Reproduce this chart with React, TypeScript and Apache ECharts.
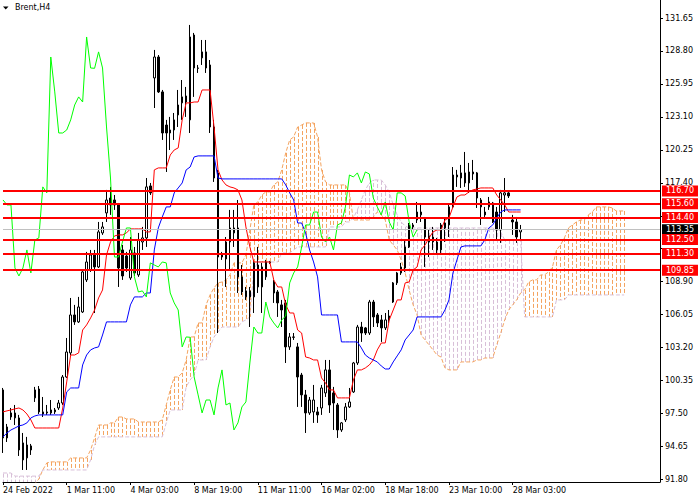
import React, { useEffect, useRef } from "react";
import * as echarts from "echarts";

const xLabels = ["24 Feb 2022", "1 Mar 11:00", "4 Mar 03:00", "8 Mar 19:00", "11 Mar 11:00", "16 Mar 02:00", "18 Mar 18:00", "23 Mar 10:00", "28 Mar 03:00"];
const yTicks = [91.8, 94.65, 97.5, 100.35, 103.2, 106.05, 108.9, 111.75, 114.55, 117.4, 120.25, 123.1, 125.95, 128.8, 131.65];
const yLabels = [91.8, 94.65, 97.5, 100.35, 103.2, 106.05, 108.9, 117.4, 120.25, 123.1, 125.95, 128.8, 131.65];
const levels = [116.7, 115.6, 114.4, 112.5, 111.3, 109.85];
const bid = 113.35;

// [open, close, low, high] per H4 bar
const ohlc = [
  [99.50, 95.35, 94.05, 99.67], [96.30, 95.35, 95.00, 96.56], [97.16, 97.51, 96.91, 97.94], [97.08, 97.51, 96.47, 98.20],
  [97.08, 94.31, 93.79, 97.34], [94.92, 93.45, 92.58, 95.78], [93.62, 94.74, 92.58, 95.44], [94.66, 94.31, 93.88, 94.83],
  [98.81, 99.50, 98.46, 99.76], [99.58, 97.60, 97.42, 99.84], [97.60, 97.42, 97.16, 98.89], [97.51, 97.60, 97.34, 98.20],
  [97.51, 97.77, 97.34, 98.63], [97.60, 97.77, 97.42, 97.94], [97.94, 98.37, 97.77, 98.63], [98.37, 100.62, 98.20, 100.79],
  [100.62, 102.78, 100.54, 103.99], [102.70, 105.98, 102.52, 107.45], [105.98, 105.38, 105.12, 106.85], [105.38, 106.67, 105.29, 107.54],
  [106.24, 109.70, 106.15, 109.87], [109.01, 110.56, 108.83, 111.43], [109.87, 111.17, 109.70, 111.60], [111.17, 110.13, 106.15, 111.60],
  [110.13, 113.16, 110.04, 114.02], [113.07, 113.59, 112.90, 114.02], [114.80, 115.92, 114.02, 116.79], [116.09, 115.49, 114.63, 117.05],
  [115.92, 115.49, 115.06, 116.35], [115.49, 110.04, 108.40, 115.66], [111.60, 109.35, 109.01, 112.03], [111.08, 110.04, 109.70, 111.43],
  [109.18, 111.60, 109.01, 112.72], [111.34, 109.61, 109.35, 111.86], [109.44, 112.46, 109.27, 113.07], [112.29, 112.64, 111.60, 113.59],
  [112.64, 117.05, 111.86, 117.82], [117.13, 116.53, 116.35, 117.39], [126.47, 128.28, 123.87, 128.89], [128.28, 125.26, 125.17, 128.45],
  [125.26, 121.71, 121.11, 125.43], [122.40, 121.71, 118.34, 122.84], [121.71, 121.97, 120.24, 123.10], [121.97, 122.84, 121.11, 123.44],
  [123.27, 124.13, 122.23, 125.43], [124.31, 124.83, 122.84, 126.29], [124.91, 124.39, 123.10, 125.69], [122.84, 130.01, 121.71, 131.05],
  [130.18, 127.33, 124.83, 130.36], [127.33, 127.30, 126.90, 127.59], [128.20, 128.72, 127.59, 129.75], [128.72, 127.33, 126.90, 129.75],
  [127.59, 122.23, 121.71, 128.02], [122.23, 117.82, 117.48, 122.84], [118.26, 110.99, 104.42, 118.52], [111.17, 110.99, 110.74, 111.43],
  [110.82, 112.29, 108.40, 112.72], [112.29, 113.50, 109.87, 115.06], [113.07, 113.50, 111.86, 115.06], [113.50, 109.27, 107.88, 115.92],
  [109.27, 107.97, 107.71, 110.30], [107.54, 108.06, 107.28, 108.40], [108.06, 107.54, 104.94, 108.40], [107.54, 110.48, 106.15, 110.74],
  [108.40, 110.30, 107.88, 111.86], [108.40, 110.13, 106.15, 110.48], [109.27, 110.56, 109.01, 110.74], [110.56, 110.48, 110.39, 110.65],
  [108.83, 107.88, 107.02, 109.01], [107.97, 107.02, 105.81, 108.14], [106.85, 106.41, 104.94, 107.28], [107.02, 103.22, 101.83, 107.28],
  [103.22, 104.08, 102.96, 104.42], [104.08, 104.05, 103.82, 104.42], [103.22, 100.62, 98.03, 103.56], [100.79, 99.07, 98.03, 100.97],
  [99.07, 97.51, 95.78, 99.50], [97.51, 98.63, 97.34, 98.89], [97.60, 98.63, 96.65, 99.93], [97.60, 97.34, 96.65, 98.03],
  [97.94, 99.67, 97.34, 99.93], [99.24, 101.23, 98.89, 102.09], [101.23, 98.20, 97.51, 102.09], [99.24, 98.37, 96.04, 99.76],
  [98.20, 96.04, 95.35, 98.37], [96.04, 96.65, 95.87, 96.73], [96.91, 98.03, 96.73, 98.37], [98.03, 98.46, 97.94, 99.67],
  [99.33, 101.83, 99.24, 101.92], [101.83, 104.94, 101.66, 105.12], [104.94, 104.42, 103.65, 105.38], [104.86, 104.42, 104.25, 104.94],
  [104.42, 107.10, 104.25, 107.28], [107.10, 105.81, 104.94, 107.28], [105.98, 105.29, 104.94, 106.15], [105.55, 104.86, 103.65, 105.98],
  [104.86, 105.55, 104.68, 106.15], [105.55, 105.89, 105.29, 106.41], [107.10, 108.75, 107.02, 108.83], [108.75, 109.61, 108.57, 109.70],
  [109.61, 110.13, 109.44, 110.48], [110.04, 111.86, 109.70, 112.46], [111.86, 113.76, 111.77, 113.93], [113.59, 113.76, 113.33, 113.93],
  [114.19, 114.88, 113.93, 115.75], [114.63, 114.88, 114.02, 115.66], [114.37, 112.72, 110.13, 114.45], [112.81, 112.29, 110.99, 113.33],
  [112.29, 112.72, 111.60, 113.59], [112.29, 111.60, 111.17, 112.64], [111.60, 113.76, 111.34, 113.93], [113.50, 113.93, 112.29, 114.37],
  [113.76, 115.32, 112.72, 115.49], [115.32, 118.08, 115.23, 118.77], [118.08, 117.91, 117.05, 118.52], [117.82, 118.26, 116.96, 118.95],
  [118.26, 117.39, 117.05, 120.07], [117.39, 118.34, 116.53, 119.12], [118.34, 118.17, 117.65, 119.38], [118.26, 116.09, 115.23, 118.34],
  [115.92, 115.32, 113.76, 116.09], [114.88, 114.63, 114.45, 115.32], [115.32, 115.75, 115.06, 116.18], [115.66, 114.02, 113.93, 115.75],
  [114.88, 113.33, 112.46, 115.32], [113.33, 116.53, 112.21, 116.79], [116.35, 116.53, 114.88, 117.82], [116.53, 116.27, 116.09, 116.61],
  [114.19, 114.02, 112.90, 114.63], [114.02, 112.72, 112.21, 114.45], [113.16, 113.35, 112.46, 113.76],
];

const tenkan = [
  97.60, 97.69, 97.77, 97.86, 97.94, 97.77, 97.42, 96.91, 96.21, 96.21,
  96.21, 96.21, 96.21, 96.21, 96.21, 97.94, 100.19, 102.52, 102.52, 102.70,
  104.68, 105.12, 105.72, 106.41, 107.45, 108.14, 111.17, 112.29, 112.81, 112.90,
  112.90, 113.07, 113.42, 113.42, 113.42, 113.42, 113.16, 113.16, 118.52, 118.69,
  118.69, 118.69, 119.81, 120.24, 120.42, 122.84, 124.31, 124.31, 124.39, 124.39,
  125.43, 125.43, 125.43, 122.23, 118.52, 117.65, 117.22, 117.05, 116.96, 116.79,
  115.92, 113.59, 111.86, 110.56, 110.56, 110.56, 110.56, 110.56, 109.01, 108.40,
  108.40, 106.85, 106.15, 106.15, 104.68, 104.42, 102.35, 102.26, 102.09, 102.09,
  100.54, 100.10, 99.50, 99.50, 98.81, 98.81, 98.81, 98.81, 100.36, 101.23,
  101.23, 101.40, 101.66, 102.09, 102.96, 103.56, 103.56, 105.55, 106.41, 107.28,
  107.28, 108.75, 108.83, 109.87, 110.13, 111.60, 112.03, 112.64, 113.16, 113.33,
  113.33, 114.19, 114.37, 115.32, 116.18, 116.35, 116.35, 116.61, 116.79, 116.87,
  116.96, 116.96, 116.96, 116.96, 116.35, 115.92, 115.49, 114.88, 114.88, 114.88, 114.88,
];

const kijun = [
  95.44, 95.78, 96.04, 96.21, 96.39, 96.47, 96.65, 97.08, 97.25, 97.34,
  97.34, 97.34, 97.34, 97.34, 97.34, 97.34, 99.33, 99.67, 99.67, 99.67,
  101.66, 102.52, 102.96, 103.13, 103.22, 104.25, 105.38, 105.38, 105.38, 105.38,
  105.38, 105.38, 106.85, 107.54, 107.54, 107.54, 107.88, 107.88, 111.60, 113.50,
  114.45, 115.32, 115.32, 116.53, 116.96, 117.39, 118.52, 118.77, 119.64, 119.73,
  119.73, 119.73, 119.73, 119.73, 117.82, 117.74, 117.74, 117.74, 117.74, 117.74,
  117.74, 117.74, 117.74, 117.74, 117.74, 117.74, 117.74, 117.74, 117.74, 117.74,
  117.74, 117.22, 116.53, 115.92, 113.93, 113.93, 113.07, 111.60, 110.56, 109.27,
  105.98, 105.98, 105.98, 105.98, 105.98, 103.65, 103.65, 103.65, 103.65, 103.65,
  103.13, 102.52, 102.26, 102.09, 101.92, 101.57, 101.31, 101.31, 101.92, 102.44,
  102.96, 103.82, 104.25, 104.68, 105.81, 105.81, 105.81, 105.81, 105.81, 105.81,
  105.81, 106.41, 107.28, 109.61, 110.74, 111.86, 111.95, 111.95, 111.95, 111.95,
  111.95, 112.46, 113.50, 113.76, 114.37, 114.88, 115.06, 115.06, 115.06, 115.06, 115.06,
];

const spanA = [
  91.40, 91.40, 91.40, 91.40, 91.40, 91.40, 91.40, 91.40, 91.40, 91.80,
  92.58, 93.19, 93.28, 93.28, 93.28, 93.28, 93.28, 93.62, 93.62, 93.62,
  93.62, 93.62, 94.31, 95.35, 96.47, 96.47, 96.47, 96.65, 96.65, 97.16,
  97.16, 96.99, 96.99, 96.99, 96.73, 96.73, 96.73, 96.73, 96.73, 96.73,
  96.91, 98.20, 99.50, 100.62, 100.62, 100.97, 102.09, 104.08, 104.08, 105.29,
  105.29, 106.85, 107.71, 108.32, 108.75, 108.83, 109.01, 109.44, 110.48, 110.48,
  110.48, 111.17, 113.33, 115.49, 115.75, 116.35, 116.61, 116.61, 117.22, 117.48,
  118.52, 119.98, 121.11, 121.37, 122.23, 122.40, 122.58, 122.58, 122.58, 121.37,
  118.52, 117.48, 117.22, 117.22, 117.22, 117.22, 117.22, 116.53, 114.19, 114.19,
  114.19, 114.19, 114.19, 114.45, 114.88, 114.63, 114.19, 112.46, 112.03, 111.60,
  110.74, 109.61, 108.14, 106.85, 105.98, 104.25, 103.82, 103.39, 102.96, 102.52,
  102.35, 101.40, 101.23, 101.23, 101.23, 101.92, 101.92, 101.92, 101.92, 102.09,
  102.09, 102.26, 102.26, 102.26, 103.39, 104.42, 105.55, 106.41, 106.85, 107.28,
  107.88, 108.14, 108.83, 109.01, 109.01, 109.44, 109.44, 109.70, 110.13, 111.60,
  112.03, 112.64, 113.50, 113.76, 114.02, 114.19, 114.19, 114.63, 114.88, 115.32,
  115.32, 115.32, 115.32, 115.23, 114.97, 114.97, 114.97,
];

const spanB = [
  92.32, 92.32, 92.32, 92.05, 92.05, 92.05, 92.05, 92.05, 92.05, 92.05,
  92.58, 92.58, 92.58, 92.58, 92.58, 92.58, 92.58, 92.58, 92.58, 92.58,
  92.58, 92.58, 93.45, 94.74, 95.44, 95.44, 95.44, 95.44, 95.44, 95.44,
  95.44, 95.44, 95.44, 95.44, 95.44, 95.44, 95.44, 95.44, 95.44, 95.44,
  95.44, 96.65, 97.77, 97.77, 97.77, 97.77, 99.76, 100.36, 100.79, 102.09,
  102.09, 102.09, 103.22, 104.08, 104.51, 104.94, 104.94, 104.94, 104.94, 104.94,
  105.38, 105.55, 105.81, 109.87, 110.56, 110.56, 110.56, 110.56, 110.56, 110.56,
  111.34, 111.34, 111.34, 111.60, 111.86, 111.86, 111.86, 111.86, 111.86, 111.86,
  111.86, 111.86, 113.59, 113.59, 113.59, 113.59, 114.02, 114.02, 114.37, 115.06,
  115.92, 116.79, 117.39, 117.65, 117.65, 117.65, 117.22, 116.61, 115.49, 114.63,
  114.02, 113.67, 113.50, 113.50, 113.50, 113.50, 113.50, 113.50, 113.50, 113.50,
  113.50, 113.50, 113.50, 113.50, 113.50, 113.50, 113.50, 113.50, 113.50, 113.50,
  113.50, 113.50, 113.50, 113.50, 113.50, 113.16, 112.46, 112.46, 112.46, 112.46,
  112.46, 105.81, 105.81, 105.81, 105.81, 105.81, 105.81, 105.81, 105.81, 107.28,
  107.28, 107.28, 107.71, 107.71, 107.71, 107.71, 107.71, 107.71, 107.71, 107.71,
  107.71, 107.71, 107.71, 107.71, 107.71, 107.71, 107.71,
];

const FONT = "DejaVu Sans";
const BAR_SHIFT = 26;
const TOTAL_BARS = 166;
const LABEL_EVERY = 16;

export default function App() {
  const ref = useRef<HTMLDivElement>(null);

  useEffect(() => {
    document.body.style.margin = "0";
    const chart = echarts.init(ref.current!, null, { renderer: "svg" });
    const cats = Array.from({ length: TOTAL_BARS }, (_, i) => String(i));
    const chikou = ohlc.slice(BAR_SHIFT).map((d) => d[1]);
    const cloud = spanA.map((a, i) => [i, a, spanB[i]]);
    const lastLabelIdx = (xLabels.length - 1) * LABEL_EVERY;
    const showIdx = (i: number) => i % LABEL_EVERY === 0 && i <= lastLabelIdx;

    const lvlLabel = (bg: string) => ({
      show: true,
      position: "end",
      distance: 2,
      formatter: (p: any) => Number(p.value).toFixed(2),
      color: "#ffffff",
      backgroundColor: bg,
      padding: [1, 4, 1, 4],
      fontSize: 8,
      lineHeight: 9,
      fontFamily: FONT,
    });

    chart.setOption({
      animation: false,
      backgroundColor: "#ffffff",
      grid: { left: 0, top: 0, width: 660, height: 482 },
      xAxis: {
        type: "category",
        data: cats,
        boundaryGap: false,
        axisLine: { lineStyle: { color: "#000", width: 1 } },
        axisTick: { interval: (i: number) => showIdx(i), length: 3, lineStyle: { color: "#000" } },
        axisLabel: {
          interval: (i: number) => showIdx(i),
          formatter: (_v: string, i: number) => xLabels[i / LABEL_EVERY] ?? "",
          align: "left",
          fontSize: 8,
          fontFamily: FONT,
          color: "#000",
          margin: 4,
        },
        splitLine: { show: false },
      },
      yAxis: {
        type: "value",
        position: "right",
        min: 91.541,
        max: 133.206,
        axisLine: { show: true, lineStyle: { color: "#000", width: 1 } },
        axisTick: { show: true, customValues: yTicks, length: 3, lineStyle: { color: "#000" } },
        axisLabel: {
          customValues: yLabels,
          formatter: (v: number) => v.toFixed(2),
          fontSize: 8,
          fontFamily: FONT,
          color: "#000",
          margin: 5,
        },
        splitLine: { show: false },
      },
      graphic: [
        { type: "polygon", shape: { points: [[3, 6.5], [8.5, 6.5], [5.75, 9.5]] }, style: { fill: "#000" } },
        { type: "text", left: 15, top: 3, style: { text: "Brent,H4", fill: "#000", font: `8px "${FONT}"` } },
      ],
      series: [
        {
          type: "custom",
          data: cloud,
          encode: { x: 0, y: [1, 2] },
          clip: true,
          silent: true,
          z: 1,
          renderItem: (_params: any, api: any) => {
            const i = api.value(0);
            const a = api.value(1);
            const b = api.value(2);
            const pa = api.coord([i, a]);
            const pb = api.coord([i, b]);
            const x = Math.round(pa[0]) + 0.5;
            return {
              type: "line",
              shape: { x1: x, y1: pa[1], x2: x, y2: pb[1] },
              style: { stroke: a >= b ? "#F4A460" : "#D8BFD8", lineWidth: 1, lineDash: [4, 2] },
            };
          },
        },
        { type: "line", data: spanA, showSymbol: false, z: 1, lineStyle: { color: "#F4A460", width: 1, type: [4, 2] } },
        { type: "line", data: spanB, showSymbol: false, z: 1, lineStyle: { color: "#D8BFD8", width: 1, type: [4, 2] } },
        {
          type: "candlestick",
          data: ohlc,
          barWidth: 2,
          z: 2,
          itemStyle: {
            color: "#ffffff",
            color0: "#000000",
            borderColor: "#000000",
            borderColor0: "#000000",
            borderColorDoji: "#000000",
            borderWidth: 1,
          },
        },
        { type: "line", data: tenkan, showSymbol: false, z: 3, lineStyle: { color: "#FF0000", width: 1 } },
        { type: "line", data: kijun, showSymbol: false, z: 3, lineStyle: { color: "#0000FF", width: 1 } },
        { type: "line", data: chikou, showSymbol: false, z: 3, lineStyle: { color: "#00FF00", width: 1 } },
        {
          type: "line",
          data: [],
          z: 4,
          markLine: {
            silent: true,
            symbol: "none",
            animation: false,
            data: [
              { yAxis: bid, lineStyle: { color: "#C0C0C0", width: 1, type: "solid" }, label: lvlLabel("#000000") },
              ...levels.map((v) => ({ yAxis: v, lineStyle: { color: "#FF0000", width: 2, type: "solid" }, label: lvlLabel("#FF0000") })),
            ],
          },
        },
      ],
    });
    return () => chart.dispose();
  }, []);

  return <div ref={ref} style={{ width: 700, height: 500 }} />;
}
